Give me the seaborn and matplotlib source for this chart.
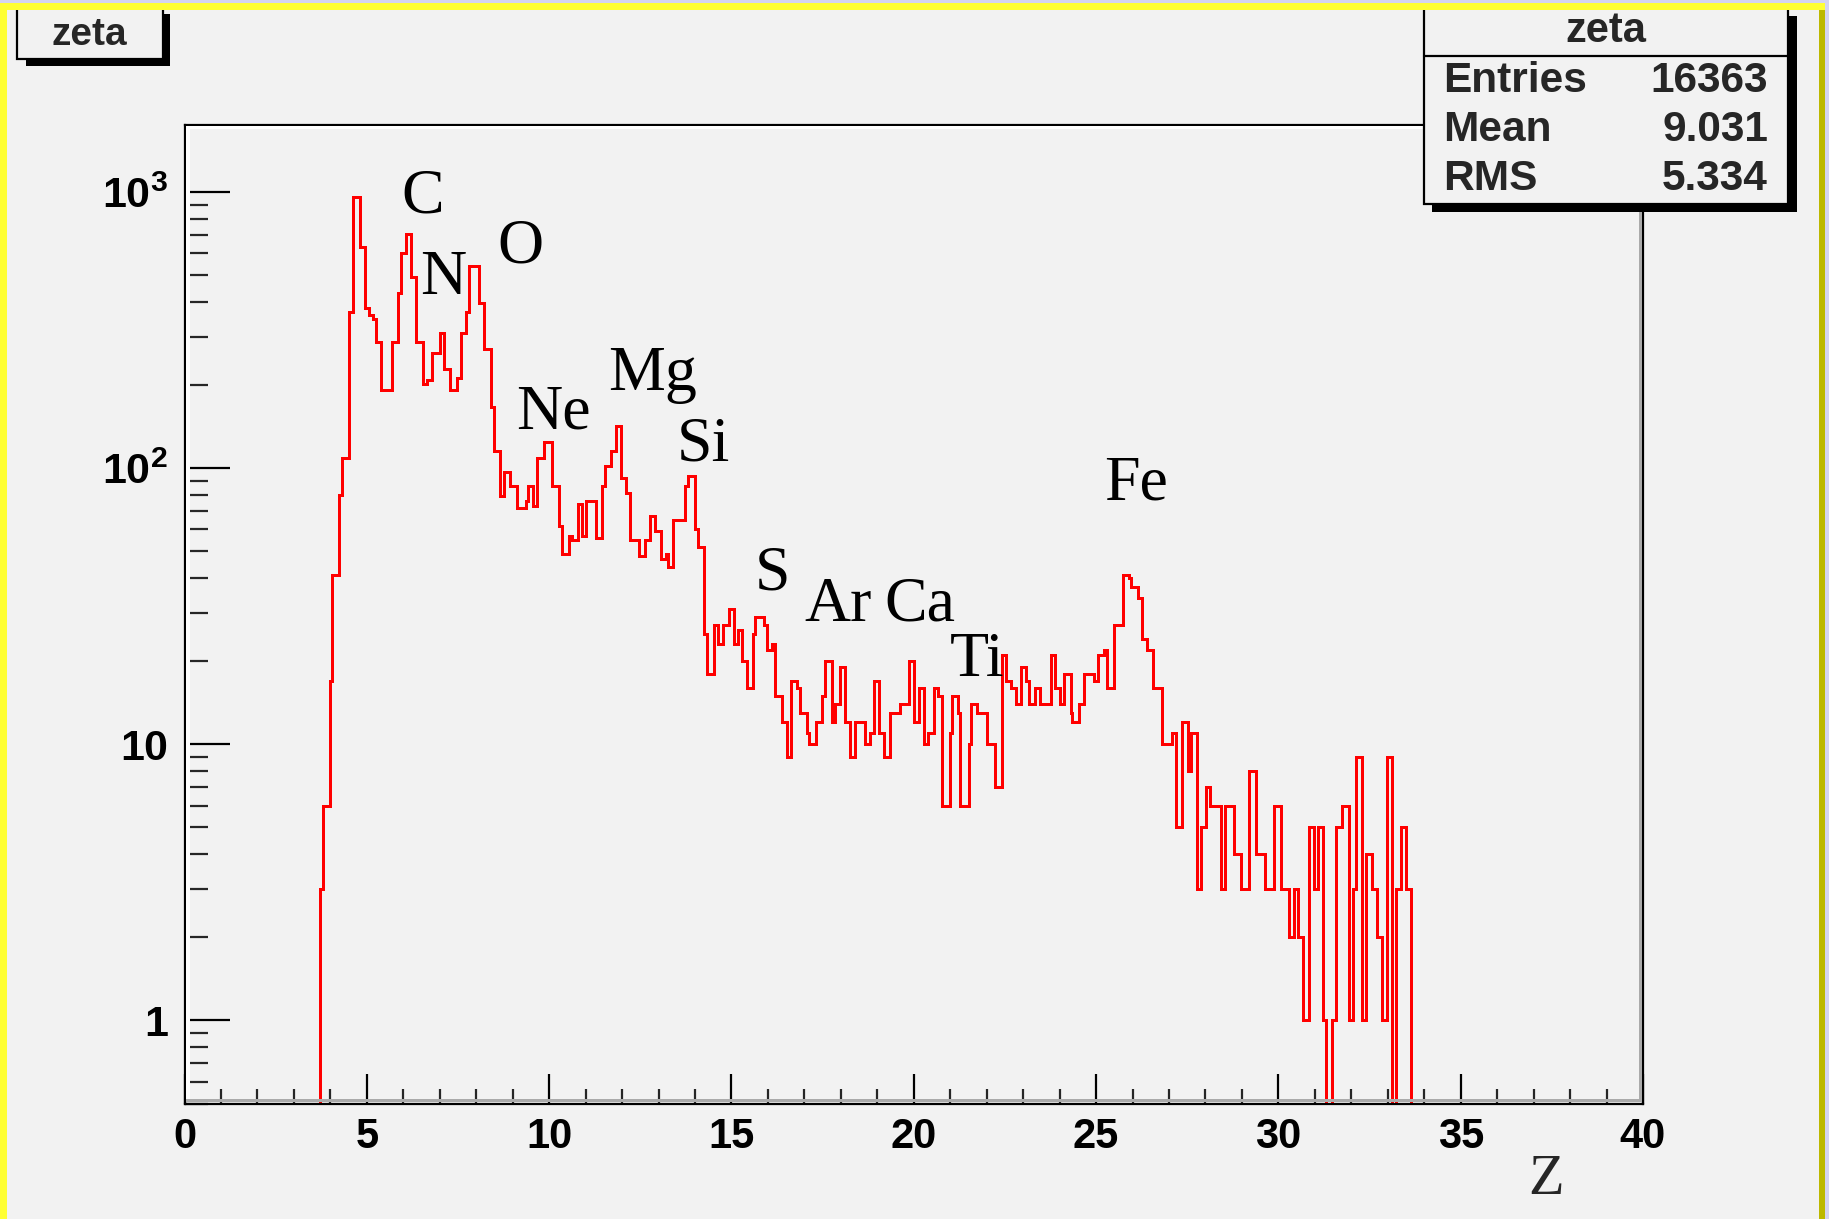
import numpy as np
import pandas as pd
import matplotlib
matplotlib.use("Agg")
import matplotlib.pyplot as plt
import seaborn as sns
from matplotlib.patches import Rectangle
from matplotlib.ticker import FixedLocator, FixedFormatter, NullFormatter

# ---------------- data ----------------
# run edges (Z) where the histogram level changes, and the count on each run
bin_edges = [3.72, 3.81, 3.98, 4.05, 4.23, 4.32, 4.50, 4.63, 4.80, 4.94, 5.05, 5.17, 5.26, 5.40,
             5.70, 5.85, 5.93, 6.08, 6.20, 6.34, 6.54, 6.65, 6.80, 7.00, 7.13, 7.27, 7.47, 7.57,
             7.71, 7.80, 8.07, 8.21, 8.41, 8.49, 8.66, 8.75, 8.92, 9.13, 9.37, 9.42, 9.56, 9.68,
             9.85, 10.08, 10.27, 10.36, 10.54, 10.64, 10.78, 10.89, 11.02, 11.28, 11.44, 11.53,
             11.69, 11.83, 11.96, 12.10, 12.22, 12.47, 12.63, 12.78, 12.90, 13.07, 13.21, 13.27,
             13.41, 13.73, 13.82, 14.00, 14.09, 14.26, 14.34, 14.51, 14.64, 14.76, 14.92, 15.06,
             15.19, 15.30, 15.42, 15.59, 15.65, 15.88, 15.97, 16.11, 16.20, 16.38, 16.52, 16.64,
             16.81, 16.89, 17.07, 17.14, 17.33, 17.48, 17.57, 17.76, 17.85, 17.99, 18.11, 18.24,
             18.40, 18.67, 18.79, 18.90, 19.04, 19.18, 19.34, 19.62, 19.86, 20.02, 20.14, 20.28,
             20.39, 20.55, 20.66, 20.78, 20.99, 21.04, 21.22, 21.28, 21.51, 21.56, 21.74, 22.00,
             22.23, 22.43, 22.52, 22.66, 22.81, 22.95, 23.09, 23.16, 23.33, 23.46, 23.76, 23.87,
             24.00, 24.12, 24.31, 24.35, 24.53, 24.67, 24.93, 25.04, 25.22, 25.29, 25.48, 25.73,
             25.91, 25.95, 26.14, 26.26, 26.39, 26.57, 26.82, 27.08, 27.19, 27.35, 27.52, 27.60,
             27.76, 27.88, 28.01, 28.13, 28.43, 28.53, 28.78, 28.98, 29.20, 29.39, 29.62, 29.89,
             30.07, 30.28, 30.42, 30.55, 30.67, 30.83, 30.99, 31.10, 31.22, 31.31, 31.47, 31.57,
             31.75, 31.95, 32.04, 32.13, 32.29, 32.41, 32.56, 32.71, 32.85, 32.97, 33.11, 33.23,
             33.35, 33.51, 33.65]
bin_counts = [3, 6, 17, 41, 80, 109, 368, 957, 635, 379, 360, 347, 286, 192,
              286, 431, 601, 707, 493, 286, 202, 208, 262, 309, 228, 192, 212, 309,
              368, 541, 398, 270, 166, 115, 79, 97, 86, 72, 76, 86, 73, 109,
              124, 86, 62, 49, 57, 55, 74, 57, 76, 56, 86, 102,
              115, 142, 92, 81, 55, 48, 55, 67, 59, 47, 49, 44,
              65, 86, 94, 60, 52, 25, 18, 27, 23, 27, 31, 23,
              26, 20, 16, 25, 29, 27, 22, 23, 15, 12, 9, 17,
              16, 13, 11, 10, 12, 15, 20, 12, 14, 19, 12, 9,
              12, 10, 11, 17, 11, 9, 13, 14, 20, 12, 16, 10,
              11, 16, 15, 6, 11, 15, 13, 6, 10, 14, 13, 10,
              7, 21, 17, 16, 14, 19, 17, 14, 16, 14, 21, 16,
              14, 18, 13, 12, 14, 18, 17, 21, 22, 16, 27, 41,
              40, 37, 34, 24, 22, 16, 10, 11, 5, 12, 8, 11,
              3, 5, 7, 6, 3, 6, 4, 3, 8, 4, 3, 6,
              3, 2, 3, 2, 1, 5, 3, 5, 1, 0, 1, 5,
              6, 1, 3, 9, 1, 4, 3, 2, 1, 9, 0, 3,
              5, 3]

element_labels = ["C", "N", "O", "Ne", "Mg", "Si", "S", "Ar", "Ca", "Ti", "Fe"]
element_z = [6.52, 7.09, 9.20, 10.13, 12.84, 14.22, 16.13, 17.92, 20.16, 21.73, 26.10]
element_y = [960, 486, 632, 158, 217, 121, 41.3, 31.7, 31.7, 20.0, 87.0]

x_ticks = [0, 5, 10, 15, 20, 25, 30, 35, 40]
x_tick_labels = ["0", "5", "10", "15", "20", "25", "30", "35", "40"]
y_ticks = [1, 10, 100, 1000]
y_tick_labels = ["1", "10", r"$10^{2}$", r"$10^{3}$"]
hist_name = "zeta"
x_label = "Z"
stats_names = ["Entries", "Mean", "RMS"]
stats_values = ["16363", "9.031", "5.334"]

# ---------------- style ----------------
sns.set_theme(style="white")
plt.rcParams['font.family'] = ['Liberation Sans', 'DejaVu Sans']
plt.rcParams['mathtext.fontset'] = 'custom'
plt.rcParams['mathtext.rm'] = 'Liberation Sans:bold'
plt.rcParams['mathtext.it'] = 'Liberation Sans:bold'
plt.rcParams['mathtext.bf'] = 'Liberation Sans:bold'

W, H = 1829, 1219
BG = '#f2f2f2'
fig = plt.figure(figsize=(W / 100, H / 100), dpi=100, facecolor=BG)

AX_L, AX_R, AX_T, AX_B = 184.5, 1643.0, 124.5, 1103.5
ax = fig.add_axes([AX_L / W, 1 - AX_B / H, (AX_R - AX_L) / W, (AX_B - AX_T) / H])
ax.set_facecolor(BG)

edges = [0.0] + bin_edges + [40.0]
counts = [0] + bin_counts + [0]
centers = [(a + b) / 2 for a, b in zip(edges[:-1], edges[1:])]
df = pd.DataFrame({"Z": centers, "n": counts})
sns.histplot(data=df, x="Z", weights="n", bins=edges, element="step", fill=False,
             color="#ff0000", linewidth=2.0, antialiased=False, ax=ax)

ax.set_yscale('log', nonpositive='clip')
ax.set_xlim(0, 40)
ax.set_ylim(0.5, 1758)
ax.set_xlabel("")
ax.set_ylabel("")

ax.xaxis.set_major_locator(FixedLocator(x_ticks))
ax.xaxis.set_major_formatter(FixedFormatter(x_tick_labels))
ax.xaxis.set_minor_locator(FixedLocator(list(range(0, 41))))
ax.xaxis.set_minor_formatter(NullFormatter())
ax.yaxis.set_major_locator(FixedLocator(y_ticks))
ax.yaxis.set_major_formatter(FixedFormatter(y_tick_labels))
ax.yaxis.set_minor_locator(FixedLocator([k * 10.0 ** e for e in range(-1, 4) for k in range(2, 10)]))
ax.yaxis.set_minor_formatter(NullFormatter())

ax.tick_params(axis='x', which='major', direction='in', length=21.6, width=1.6, pad=10,
               labelsize=30, colors='black', bottom=True, top=False)
ax.tick_params(axis='x', which='minor', direction='in', length=10.8, width=1.6,
               bottom=True, top=False)
ax.tick_params(axis='y', which='major', direction='in', length=32.4, width=1.6, pad=12,
               labelsize=31, colors='black', left=True, right=False)
ax.tick_params(axis='y', which='minor', direction='in', length=16.6, width=1.6,
               left=True, right=False)
for lab in ax.get_xticklabels() + ax.get_yticklabels():
    lab.set_fontweight('bold')
    lab.set_family(['Liberation Sans', 'DejaVu Sans'])

for sp in ax.spines.values():
    sp.set_color('black')
    sp.set_linewidth(1.6)

for lab, z, y in zip(element_labels, element_z, element_y):
    ax.text(z, y, lab, family=['Liberation Serif', 'DejaVu Serif'], fontsize=46,
            ha='center', va='center', color='black')


# ---------------- decorations in pixel coordinates ----------------
def prect(x0, y0, x1, y1, z=2, **kw):
    r = Rectangle((x0 / W, 1 - y1 / H), (x1 - x0) / W, (y1 - y0) / H,
                  transform=fig.transFigure, zorder=z, **kw)
    fig.patches.append(r)
    return r


def ptext(x, y, s, **kw):
    return fig.text(x / W, 1 - y / H, s, **kw)


# frame bevel bands
prect(AX_L + 1.5, AX_T + 1.5, AX_R - 2, AX_T + 4.5, z=1.5, facecolor='white', edgecolor='none')
prect(AX_L + 1.5, AX_T + 1.5, AX_L + 5, AX_B - 2, z=1.5, facecolor='white', edgecolor='none')
prect(AX_L + 1.5, AX_B - 4.5, AX_R - 2, AX_B - 1.5, z=1.5, facecolor='#aaaaaa', edgecolor='none')
prect(AX_R - 4.5, AX_T + 1.5, AX_R - 1.5, AX_B - 2, z=1.5, facecolor='#aaaaaa', edgecolor='none')

# canvas border (yellow bevel)
prect(0, 0, W, 2.5, z=5, facecolor='#d4d4f0', edgecolor='none')
prect(0, 2.5, W, 10, z=5, facecolor='#ffff33', edgecolor='none')
prect(0, 2.5, 7, H, z=5, facecolor='#ffff33', edgecolor='none')
prect(1819, 10, 1825, H, z=5, facecolor='#bcb800', edgecolor='none')
prect(1825, 0, W, H, z=5, facecolor='#d4d4f0', edgecolor='none')

# title box
prect(26, 14, 170.3, 66, z=3, facecolor='black', edgecolor='none')
prect(17.2, 6, 162.6, 59.3, z=3.1, facecolor=BG, edgecolor='black', linewidth=1.6)
ptext(89, 35, hist_name, fontsize=28, fontweight='bold', ha='center', va='center', zorder=4)

# stats box
prect(1432, 16, 1797, 212, z=3, facecolor='black', edgecolor='none')
prect(1424, 6, 1788, 204, z=3.1, facecolor=BG, edgecolor='black', linewidth=1.6)
fig.lines.append(plt.Line2D([1424 / W, 1788 / W], [1 - 56 / H, 1 - 56 / H],
                            transform=fig.transFigure, color='black', linewidth=1.6, zorder=3.2))
ptext(1606, 31, hist_name, fontsize=30, fontweight='bold', ha='center', va='center', zorder=4)
for i, (nm, val) in enumerate(zip(stats_names, stats_values)):
    yy = 81 + i * 49.2
    ptext(1443, yy, nm, fontsize=30.5, fontweight='bold', ha='left', va='center', zorder=4)
    ptext(1768, yy, val, fontsize=30.5, fontweight='bold', ha='right', va='center', zorder=4)

# axis title
ptext(1546, 1180, x_label, family=['Liberation Serif', 'DejaVu Serif'], fontsize=42,
      ha='center', va='center')

fig.savefig("out.png", dpi=100, facecolor=BG)
